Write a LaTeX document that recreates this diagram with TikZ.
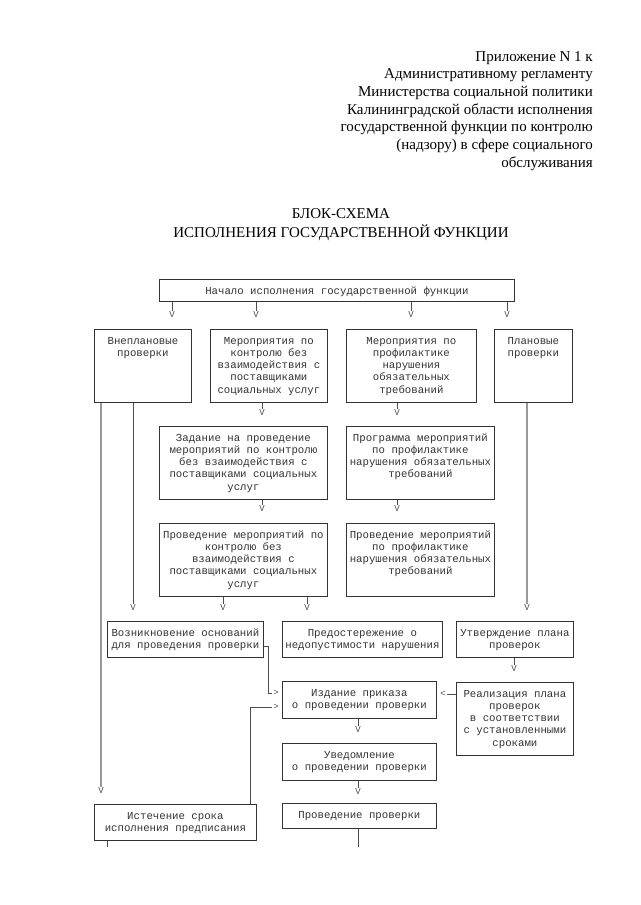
\documentclass[tikz,border=0pt]{standalone}
\usepackage{fontspec}
\setmainfont{Liberation Serif}
\newfontfamily\monofont{Liberation Mono}
\usetikzlibrary{positioning,calc}
\newcommand{\cell}[3]{\parbox[c][#2pt][t]{#1pt}{\centering\vspace*{6pt}\strut#3\par}}

\begin{document}
\begin{tikzpicture}
[x=1pt,y=-1pt,
blk/.style={draw=black!80,line width=0.8pt,inner sep=0pt,anchor=north west,
  text=black!80,font=\monofont\fontsize{10.7}{12.3}\selectfont},
arrV/.style={inner sep=1pt,text=black!70,font=\monofont\fontsize{9}{10}\selectfont},
dedge/.style={black!70,line width=0.7pt},
longedge/.style={black!40,line width=1.2pt}]
\useasboundingbox (0,0) rectangle (640,905);
%%
%%%%%%%%%%%%%%%%%%
% Heading
%%%%%%%%%%%%%%%%%%
\node[anchor=north east,inner sep=0pt,align=right,font=\fontsize{15}{17.7}\selectfont] (hdr) at (593,51)
 {Приложение N 1 к\\Административному регламенту\\Министерства социальной политики\\
  Калининградской области исполнения\\государственной функции по контролю\\
  (надзору) в сфере социального\\обслуживания};
\node[anchor=north,inner sep=0pt,align=center,font=\fontsize{15}{19}\selectfont] (ttl) at (341,208)
 {БЛОК-СХЕМА\\ИСПОЛНЕНИЯ ГОСУДАРСТВЕННОЙ ФУНКЦИИ};
%%
%%%%%%%%%%%%%%%%%%
% Blocks
%%%%%%%%%%%%%%%%%%
\node[blk] (start) at (159,279) {\cell{355}{22}{Начало исполнения государственной функции}};
%% row 2
\node[blk] (vneplan) at (94,329) {\cell{97}{73}{Внеплановые\\проверки}};
\node[blk] (kontr) at (210,329) {\cell{117}{73}{Мероприятия по\\контролю без\\взаимодействия с\\поставщиками\\социальных услуг}};
\node[blk] (profil) at (346,329) {\cell{130}{73}{Мероприятия по\\профилактике\\нарушения\\обязательных\\требований}};
\node[blk] (plan) at (494,329) {\cell{78}{73}{Плановые\\проверки}};
%% row 3
\node[blk] (zadan) at (159,426) {\cell{168}{73}{Задание на проведение\\мероприятий по контролю\\без взаимодействия с\\поставщиками социальных\\услуг}};
\node[blk] (progr) at (346,426) {\cell{148}{73}{Программа мероприятий\\по профилактике\\нарушения обязательных\\требований}};
%% row 4
\node[blk] (provK) at (159,523) {\cell{168}{73}{Проведение мероприятий по\\контролю без\\взаимодействия с\\поставщиками социальных\\услуг}};
\node[blk] (provP) at (346,523) {\cell{148}{73}{Проведение мероприятий\\по профилактике\\нарушения обязательных\\требований}};
%% row 5
\node[blk] (vozn) at (107,621) {\cell{156}{36}{Возникновение оснований\\для проведения проверки}};
\node[blk] (predo) at (282,621) {\cell{160}{36}{Предостережение о\\недопустимости нарушения}};
\node[blk] (utver) at (456,621) {\cell{117}{36}{Утверждение плана\\проверок}};
%% inspection
\node[blk] (izdan) at (282,681) {\cell{154}{37}{Издание приказа\\о проведении проверки}};
\node[blk] (realiz) at (456,682) {\cell{117}{73}{Реализация плана\\проверок\\в соответствии\\с установленными\\сроками}};
\node[blk] (uved) at (282,743) {\cell{154}{37}{Уведомление\\о проведении проверки}};
\node[blk] (prov) at (282,803) {\cell{154}{25}{Проведение проверки}};
\node[blk] (istech) at (94,804) {\cell{162}{36}{Истечение срока\\исполнения предписания}};
%%
%%%%%%%%%%%%%%%%%%
% Arrow heads
%%%%%%%%%%%%%%%%%%
\node[arrV] (s1) at (172,315) {V};
\node[arrV] (s2) at (256,315) {V};
\node[arrV] (s3) at (411,315) {V};
\node[arrV] (s4) at (507,315) {V};
\node[arrV] (k1) at (262,413) {V};
\node[arrV] (p1) at (397,413) {V};
\node[arrV] (k2) at (262,509) {V};
\node[arrV] (p2) at (397,509) {V};
\node[arrV] (a1) at (133,608) {V};
\node[arrV] (k3) at (223,608) {V};
\node[arrV] (k4) at (307,608) {V};
\node[arrV] (d1) at (527,608) {V};
\node[arrV] (u1) at (514,669) {V};
\node[arrV] (i1) at (358,730) {V};
\node[arrV] (w1) at (358,792) {V};
\node[arrV] (a2) at (101,791) {V};
\node[arrV] (gt1) at (276,693) {>};
\node[arrV] (gt2) at (276,707) {>};
\node[arrV] (lt1) at (443,694) {<};
\coordinate (e1) at (358,847);
\coordinate (e2) at (107,847);
%%
%%%%%%%%%%%%%%%%%%
% Connectors
%%%%%%%%%%%%%%%%%%
\foreach \v in {s1,s2,s3,s4}
  \draw[dedge] (start.south -| \v) -- (\v);
\draw[dedge] (kontr.south -| k1) -- (k1);
\draw[dedge] (profil.south -| p1) -- (p1);
\draw[dedge] (zadan.south -| k2) -- (k2);
\draw[dedge] (progr.south -| p2) -- (p2);
\draw[dedge] (provK.south -| k3) -- (k3);
\draw[dedge] (provK.south -| k4) -- (k4);
\draw[dedge] (vneplan.south -| a1) -- (a1);
\draw[longedge] (vneplan.south -| a2) -- (a2);
\draw[longedge] (plan.south -| d1) -- (d1);
\draw[dedge] (utver.south -| u1) -- (u1);
\draw[dedge] (izdan.south -| i1) -- (i1);
\draw[dedge] (uved.south -| w1) -- (w1);
\draw[dedge] ([yshift=-7pt]vozn.east) -- ++(5,0) |- (gt1);
\draw[dedge] ([xshift=-6pt]istech.north east) |- (gt2);
\draw[dedge] (realiz.west |- lt1) -- (lt1);
\draw[dedge] (prov.south -| e1) -- (e1);
\draw[dedge] (istech.south -| e2) -- (e2);
%%
\end{tikzpicture}
\end{document}
